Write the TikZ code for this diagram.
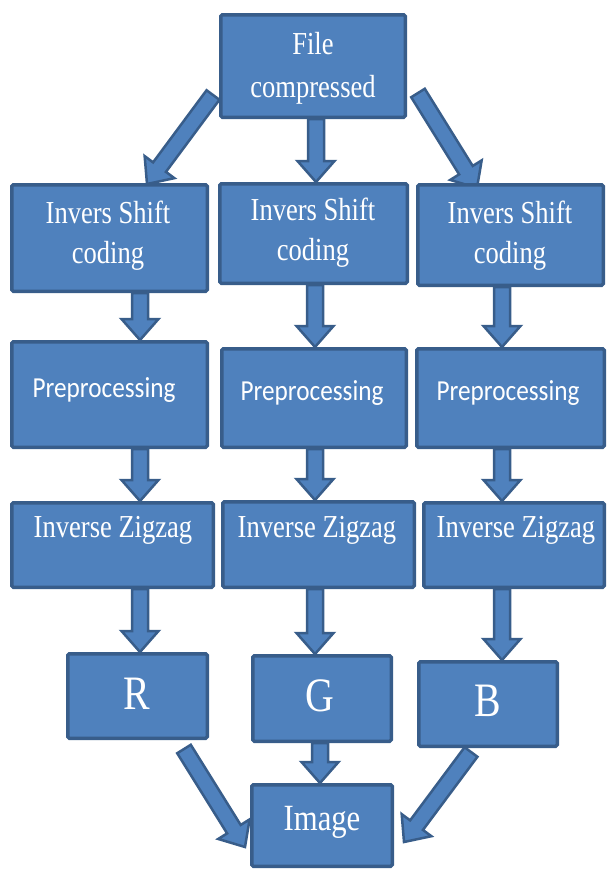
\documentclass[tikz,border=0pt]{standalone}
\usepackage{fontspec}
\setmainfont{Liberation Serif}[FakeStretch=0.83]
\newfontfamily\calibfont{Carlito}[FakeStretch=0.87]
\usetikzlibrary{calc,backgrounds}
\definecolor{boxfill}{HTML}{4F81BD}
\definecolor{boxline}{HTML}{385D8A}
\tikzset{
  box/.style={draw=boxline, fill=boxfill, line width=3.5pt, rounded corners=1.5pt, inner sep=0pt},
  txt/.style={text=white, inner sep=0pt, anchor=base, font=\fontsize{32}{36}\selectfont},
  ptxt/.style={txt, font=\calibfont\fontsize{29}{33}\selectfont},
  bigtxt/.style={txt, font=\fontsize{48}{52}\selectfont},
  imgtxt/.style={txt, font=\fontsize{37}{40}\selectfont},
  barrow/.style={draw=boxline, fill=boxfill, line width=2.5pt, line join=miter}
}
\newcommand\blockarrow[2]{%
  \coordinate (ba-h) at ($(#2)!21pt!(#1)$);
  \path[barrow] ($(#1)!8pt!90:(#2)$) -- ($(ba-h)!8pt!90:(#2)$) -- ($(ba-h)!18.5pt!90:(#2)$) -- (#2)
     -- ($(ba-h)!18.5pt!-90:(#2)$) -- ($(ba-h)!8pt!-90:(#2)$) -- ($(#1)!8pt!-90:(#2)$) -- cycle;}
\begin{document}
\begin{tikzpicture}[x=1pt,y=-1pt]
\useasboundingbox (0,0) rectangle (611,870);
% boxes
\node[box, minimum width=184.5, minimum height=102.5] (T) at (313,66) {};
\node[box, minimum width=195.5, minimum height=106.5] (L1) at (109.5,238) {};
\node[box, minimum width=187.5, minimum height=99.5] (M1) at (313.5,233.5) {};
\node[box, minimum width=185.5, minimum height=100.5] (R1) at (510.5,235) {};
\node[box, minimum width=195.5, minimum height=105.5] (L2) at (109.5,394.5) {};
\node[box, minimum width=184.5, minimum height=98.5] (M2) at (314,398) {};
\node[box, minimum width=187.5, minimum height=98.5] (R2) at (510.5,398) {};
\node[box, minimum width=201.5, minimum height=84.5] (L3) at (112.5,545) {};
\node[box, minimum width=191.5, minimum height=85.5] (M3) at (318.5,544.5) {};
\node[box, minimum width=180.5, minimum height=84.5] (R3) at (514,545) {};
\node[box, minimum width=139.5, minimum height=84.5] (Rb) at (137.5,696) {};
\node[box, minimum width=138.5, minimum height=85.5] (Gb) at (322,698.5) {};
\node[box, minimum width=138.5, minimum height=84.5] (Bb) at (488,704) {};
\node[box, minimum width=140.5, minimum height=81.5] (Im) at (322,825.5) {};
% texts
\node[txt] (T-a) at (313,54) {File};
\node[txt] (T-b) at (313,97) {compressed};
\node[txt] (L1-a) at (108,223) {Invers Shift};
\node[txt] (L1-b) at (108,263) {coding};
\node[txt] (M1-a) at (313,220) {Invers Shift};
\node[txt] (M1-b) at (313,260) {coding};
\node[txt] (R1-a) at (510,223) {Invers Shift};
\node[txt] (R1-b) at (510,263) {coding};
\node[ptxt] (L2-a) at (104,397) {Preprocessing};
\node[ptxt] (M2-a) at (312,400) {Preprocessing};
\node[ptxt] (R2-a) at (508,400) {Preprocessing};
\node[txt] (L3-a) at (113,537) {Inverse Zigzag};
\node[txt] (M3-a) at (317,537) {Inverse Zigzag};
\node[txt] (R3-a) at (516,537) {Inverse Zigzag};
\node[bigtxt] (Rb-a) at (137,709) {R};
\node[bigtxt] (Gb-a) at (320,711) {G};
\node[bigtxt] (Bb-a) at (488,716) {B};
\node[imgtxt] (Im-a) at (322,830) {Image};
% arrows
\coordinate (c1) at (140,0);
\coordinate (c2) at (315,0);
\coordinate (c3) at (502,0);
\coordinate (ct) at (316,0);
\coordinate (cg) at (320,0);
\coordinate (tl1) at (213,95);
\coordinate (tl2) at (147,184);
\coordinate (tr1) at (418,93);
\coordinate (tr2) at (477,188);
\coordinate (rb1) at (184,749);
\coordinate (rb2) at (245,847);
\coordinate (bb1) at (471,752);
\coordinate (bb2) at (404,842);
\begin{scope}[on background layer]
\blockarrow{T.south -| ct}{M1.north -| ct}
\blockarrow{tl1}{tl2}
\blockarrow{tr1}{tr2}
\blockarrow{L1.south -| c1}{L2.north -| c1}
\blockarrow{M1.south -| c2}{M2.north -| c2}
\blockarrow{R1.south -| c3}{R2.north -| c3}
\blockarrow{L2.south -| c1}{L3.north -| c1}
\blockarrow{M2.south -| c2}{M3.north -| c2}
\blockarrow{R2.south -| c3}{R3.north -| c3}
\blockarrow{L3.south -| c1}{Rb.north -| c1}
\blockarrow{M3.south -| c2}{Gb.north -| c2}
\blockarrow{R3.south -| c3}{Bb.north -| c3}
\blockarrow{Gb.south -| cg}{Im.north -| cg}
\blockarrow{rb1}{rb2}
\blockarrow{bb1}{bb2}
\end{scope}
\end{tikzpicture}
\end{document}
